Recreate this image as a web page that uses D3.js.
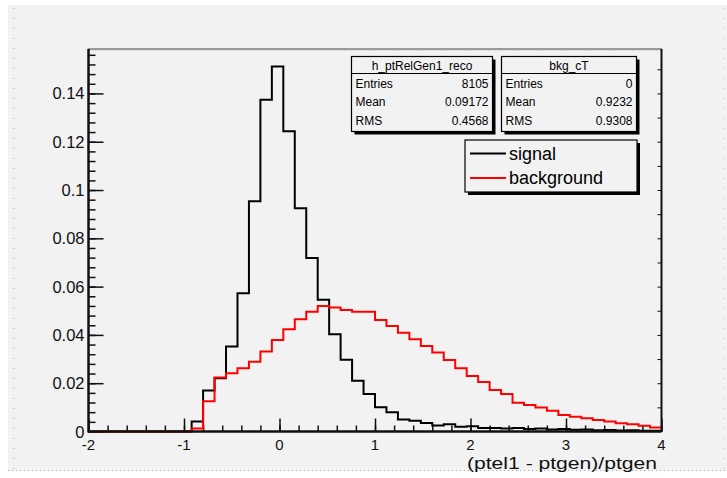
<!DOCTYPE html>
<html><head><meta charset="utf-8">
<script src="https://cdn.jsdelivr.net/npm/d3@7"></script>
<style>
html,body{margin:0;padding:0;background:#fff;}
svg{display:block;}
text{font-family:"Liberation Sans",Arial,sans-serif;}
</style></head>
<body>
<svg id="c" width="727" height="478"></svg>
<script>
// ---- data ----
const xRange = [-2, 4];
const nBins = 50;
const signal = [0,0,0,0,0,0,0,0,0,
  0.0041,0.0170,0.0221,0.0352,0.0573,0.0953,0.1374,0.1512,0.1243,0.0925,
  0.0718,0.0546,0.0403,0.0297,0.0210,0.0155,0.0100,0.0080,0.0050,0.0045,
  0.0035,0.0025,0.0030,0.0020,0.0022,0.0015,
  0.0015,0.0012,0.0014,0.0010,0.0012,0.0008,0.0010,0.0007,0.0008,0.0005,
  0.0006,0.0004,0.0005,0.0003,0.0003];
const background = [0,0,0,0,0,0,0,0,0,
  0.0012,0.0125,0.0224,0.0241,0.0262,0.0289,0.0331,0.0379,0.0423,0.0465,
  0.0496,0.0520,0.0514,0.0503,0.0496,0.0496,0.0462,0.0437,0.0409,0.0382,
  0.0354,0.0327,0.0296,0.0262,0.0230,0.0205,0.0172,0.0155,0.0119,0.0110,
  0.0099,0.0086,0.0068,0.0061,0.0055,0.0048,0.0041,0.0034,0.0030,0.0024,0.0017];
const xTicks = [-2,-1,0,1,2,3,4];
const xTickLabels = ["-2","-1","0","1","2","3","4"];
const yTicks = [0,0.02,0.04,0.06,0.08,0.1,0.12,0.14];
const yTickLabels = ["0","0.02","0.04","0.06","0.08","0.1","0.12","0.14"];
const yMax = 0.1584;
const xTitle = "(ptel1 - ptgen)/ptgen";
const legendLabels = ["signal","background"];
const legendColors = ["#000000","#ff0000"];
const stats1Title = "h_ptRelGen1_reco";
const stats1Rows = [["Entries","8105"],["Mean","0.09172"],["RMS","0.4568"]];
const stats2Title = "bkg_cT";
const stats2Rows = [["Entries","0"],["Mean","0.9232"],["RMS","0.9308"]];

// ---- layout ----
const svg = d3.select("#c");
const L = 88.5, R = 661.5, T = 49, B = 431.5;
const x = d3.scaleLinear().domain(xRange).range([L, R]);
const y = d3.scaleLinear().domain([0, yMax]).range([B, T]);

// canvas background
svg.append("rect").attr("x",8).attr("y",5).attr("width",719).attr("height",466).attr("fill","#f2f2f2");
svg.append("line").attr("x1",14).attr("x2",14).attr("y1",8).attr("y2",470)
  .attr("stroke","#aaa").attr("stroke-dasharray","1,9");
svg.append("line").attr("x1",8).attr("x2",727).attr("y1",470.5).attr("y2",470.5)
  .attr("stroke","#aaa").attr("stroke-dasharray","1,3");
svg.append("line").attr("x1",724).attr("x2",724).attr("y1",8).attr("y2",470)
  .attr("stroke","#bbb").attr("stroke-dasharray","1,9");

// frame
svg.append("rect").attr("x",L).attr("y",T).attr("width",R-L).attr("height",B-T)
  .attr("fill","#f2f2f2").attr("stroke","#444").attr("stroke-width",1);
svg.append("line").attr("x1",L+1).attr("x2",R-1).attr("y1",T+1.5).attr("y2",T+1.5)
  .attr("stroke","#bbb").attr("stroke-dasharray","1,2");

const edges = d3.range(nBins+1).map(i => xRange[0] + i*(xRange[1]-xRange[0])/nBins);
function stepPts(vals){
  const p = vals.map((v,i)=>[edges[i], v]);
  p.push([edges[nBins], vals[nBins-1]]);
  return p;
}
const line = d3.line().x(d=>x(d[0])).y(d=>y(d[1])).curve(d3.curveStepAfter);

// axes
const yAxis = d3.axisRight(y).tickValues(yTicks).tickSize(15).tickFormat("");
const yMinor = d3.axisRight(y).tickValues(d3.range(0, 0.1561, 0.004)).tickSize(7).tickFormat("");
const xAxis = d3.axisTop(x).tickValues(xTicks).tickSize(13).tickFormat("");
const xMinor = d3.axisTop(x).tickValues(d3.range(-2, 4.001, 0.2)).tickSize(6).tickFormat("");
const yRight = d3.axisLeft(y).tickValues(d3.range(0.01, 0.155, 0.01)).tickSize(4).tickFormat("");

function styleAxis(g, w){
  g.select(".domain").remove();
  g.selectAll("line").attr("stroke","#111").attr("stroke-width",w);
}
svg.append("g").attr("transform",`translate(${L},0)`).call(yMinor).call(g=>styleAxis(g,1.5));
svg.append("g").attr("transform",`translate(${L},0)`).call(yAxis).call(g=>styleAxis(g,1.5));
svg.append("g").attr("transform",`translate(0,${B})`).call(xMinor).call(g=>styleAxis(g,1.5));
svg.append("g").attr("transform",`translate(0,${B})`).call(xAxis).call(g=>styleAxis(g,1.5));
svg.append("g").attr("transform",`translate(${R},0)`).call(yRight).call(g=>styleAxis(g,1));

// histograms
svg.append("path").datum(stepPts(signal)).attr("d",line)
  .attr("fill","none").attr("stroke","#000").attr("stroke-width",2);
svg.append("path").datum(stepPts(background)).attr("d",line)
  .attr("fill","none").attr("stroke","#ff0000").attr("stroke-width",2);

// axis lines
svg.append("line").attr("x1",L).attr("x2",L).attr("y1",T).attr("y2",B+1)
  .attr("stroke","#111").attr("stroke-width",2.5);
svg.append("line").attr("x1",L).attr("x2",R).attr("y1",B).attr("y2",B)
  .attr("stroke","#111").attr("stroke-width",2.5);
svg.append("line").attr("x1",R).attr("x2",R).attr("y1",T).attr("y2",B)
  .attr("stroke","#111").attr("stroke-width",2);

// tick labels
svg.append("g").selectAll("text").data(yTicks).join("text")
  .attr("x",L-4).attr("y",d=>y(d)+6).attr("text-anchor","end")
  .attr("font-size",16.5).attr("fill","#111").text((d,i)=>yTickLabels[i]);
svg.append("g").selectAll("text").data(xTicks).join("text")
  .attr("x",d=>x(d)).attr("y",B+18).attr("text-anchor","middle")
  .attr("font-size",15).attr("fill","#111").text((d,i)=>xTickLabels[i]);
svg.append("text").attr("x",467).attr("y",B+37)
  .attr("font-size",17).attr("fill","#111")
  .attr("textLength",190).attr("lengthAdjust","spacingAndGlyphs").text(xTitle);

// stats boxes
function statsBox(x0, y0, w, h, title, rows){
  const g = svg.append("g");
  g.append("rect").attr("x",x0+3).attr("y",y0+3).attr("width",w).attr("height",h).attr("fill","#000");
  g.append("rect").attr("x",x0).attr("y",y0).attr("width",w).attr("height",h)
    .attr("fill","#f2f2f2").attr("stroke","#000").attr("stroke-width",1.2);
  g.append("line").attr("x1",x0).attr("x2",x0+w).attr("y1",y0+17).attr("y2",y0+17)
    .attr("stroke","#000").attr("stroke-width",1);
  g.append("text").attr("x",x0+w/2).attr("y",y0+13).attr("text-anchor","middle")
    .attr("font-size",12).attr("fill","#000").text(title);
  rows.forEach((r,i)=>{
    const yy = y0 + 31 + i*18.5;
    g.append("text").attr("x",x0+4).attr("y",yy).attr("font-size",12).attr("fill","#000").text(r[0]);
    g.append("text").attr("x",x0+w-4).attr("y",yy).attr("text-anchor","end").attr("font-size",12).attr("fill","#000").text(r[1]);
  });
}
statsBox(351.5, 56.5, 141, 75, stats1Title, stats1Rows);
statsBox(501.5, 56.5, 135, 75, stats2Title, stats2Rows);

// legend
const lg = svg.append("g");
lg.append("rect").attr("x",468).attr("y",143).attr("width",172).attr("height",52).attr("fill","#000");
lg.append("rect").attr("x",465).attr("y",140).attr("width",172).attr("height",52)
  .attr("fill","#f2f2f2").attr("stroke","#000").attr("stroke-width",1.2);
legendLabels.forEach((lab,i)=>{
  const yy = 153.5 + i*24.5;
  lg.append("line").attr("x1",470).attr("x2",506).attr("y1",yy).attr("y2",yy)
    .attr("stroke",legendColors[i]).attr("stroke-width",2);
  lg.append("text").attr("x",509).attr("y",yy+6).attr("font-size",18).attr("fill","#000").text(lab);
});
</script>
</body></html>
